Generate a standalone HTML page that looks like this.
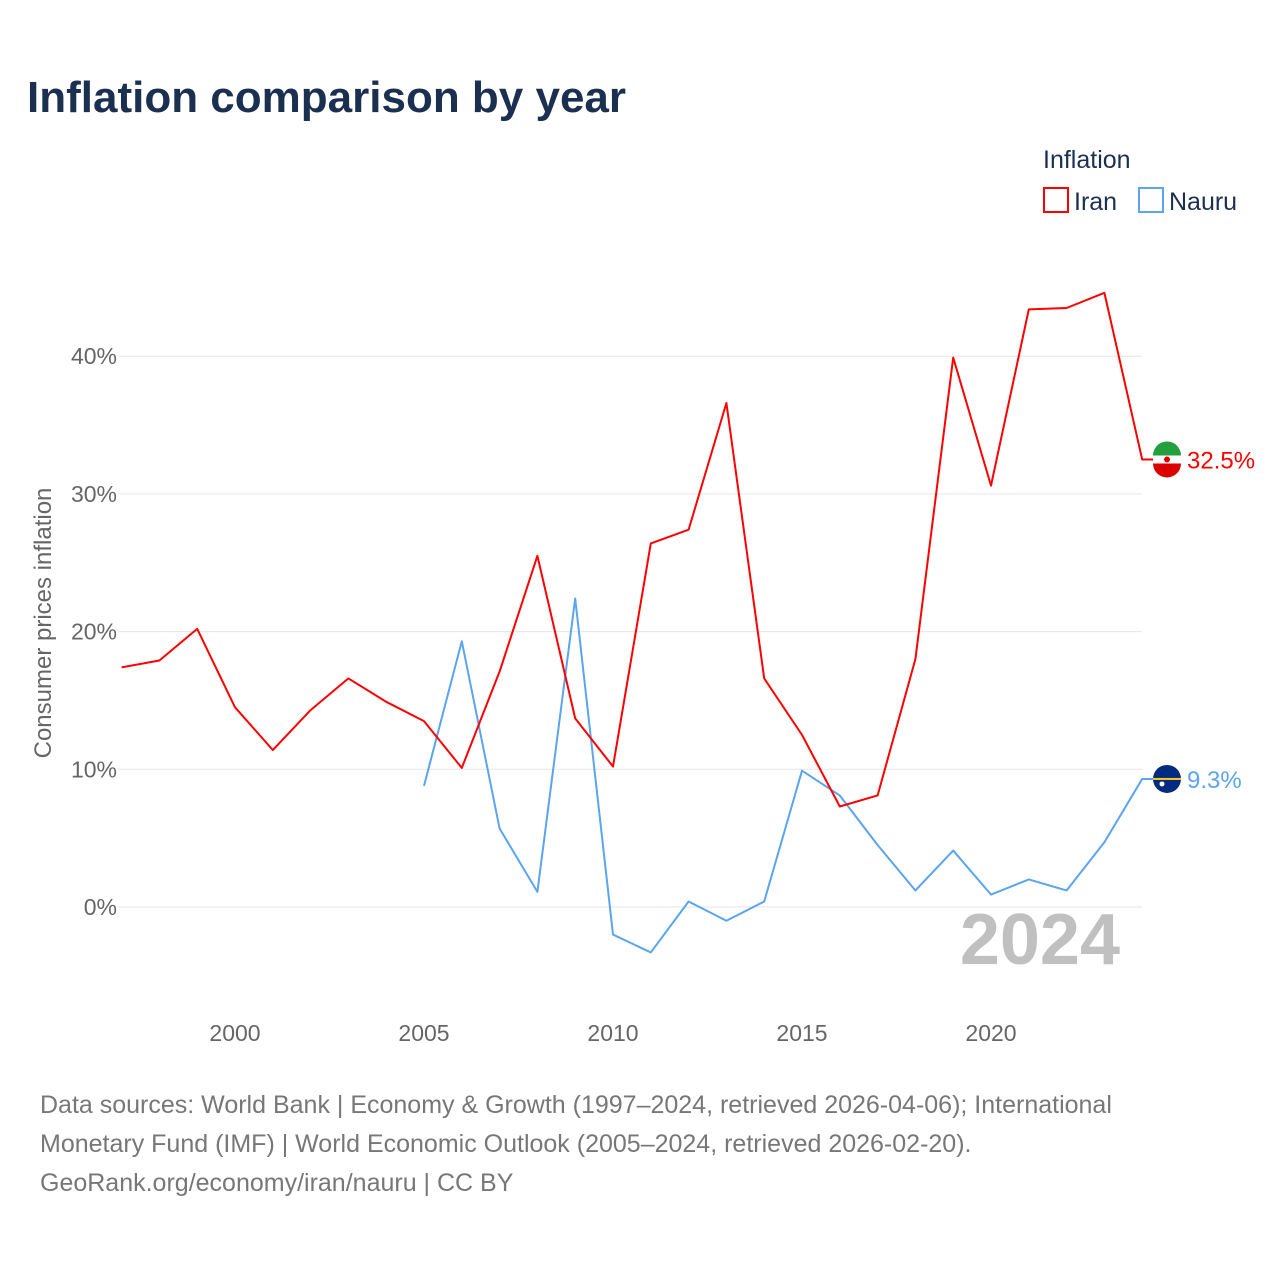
<!DOCTYPE html>
<html><head><meta charset="utf-8"><style>
body{margin:0;background:#fff;font-family:"Liberation Sans",sans-serif}
</style></head><body>
<svg width="1280" height="1280" viewBox="0 0 1280 1280" xmlns="http://www.w3.org/2000/svg">
<rect width="1280" height="1280" fill="#fff"/>
<text x="27" y="112" font-size="44" font-weight="bold" fill="#1b3050">Inflation comparison by year</text>
<text x="1043" y="168" font-size="25" fill="#1b3050">Inflation</text>
<g><rect x="1044" y="188" width="24" height="24" fill="none" stroke="#ff0000" stroke-width="2"/><text x="1074" y="210" font-size="25" fill="#1b3050">Iran</text></g>
<g><rect x="1139" y="188" width="24" height="24" fill="none" stroke="#5ba4ee" stroke-width="2"/><text x="1169" y="210" font-size="25" fill="#1b3050">Nauru</text></g>
<g id="grid"></g>
<g id="yt"></g>
<g id="xt"></g>
<text transform="translate(51,623) rotate(-90)" text-anchor="middle" font-size="24" fill="#666">Consumer prices inflation</text>
<text x="1120" y="964" text-anchor="end" font-size="72" font-weight="bold" fill="#c0c0c0">2024</text>
<g id="series"></g>
<text x="40" y="1113" font-size="25" fill="#777">Data sources: World Bank | Economy &amp; Growth (1997–2024, retrieved 2026-04-06); International</text>
<text x="40" y="1152" font-size="25" fill="#777">Monetary Fund (IMF) | World Economic Outlook (2005–2024, retrieved 2026-02-20).</text>
<text x="40" y="1191" font-size="25" fill="#777">GeoRank.org/economy/iran/nauru | CC BY</text>
</svg>
<script>
const iranYears=[1997,1998,1999,2000,2001,2002,2003,2004,2005,2006,2007,2008,2009,2010,2011,2012,2013,2014,2015,2016,2017,2018,2019,2020,2021,2022,2023,2024];
const iranValues=[17.4,17.9,20.2,14.5,11.4,14.3,16.6,14.9,13.5,10.1,17.1,25.5,13.7,10.2,26.4,27.4,36.6,16.6,12.5,7.3,8.1,18.0,39.9,30.6,43.4,43.5,44.6,32.5];
const nauruYears=[2005,2006,2007,2008,2009,2010,2011,2012,2013,2014,2015,2016,2017,2018,2019,2020,2021,2022,2023,2024];
const nauruValues=[8.8,19.3,5.7,1.1,22.4,-2.0,-3.3,0.4,-1.0,0.4,9.9,8.1,4.5,1.2,4.1,0.9,2.0,1.2,4.7,9.3];
const yTicks=[0,10,20,30,40];
const xTicks=[2000,2005,2010,2015,2020];
const NS='http://www.w3.org/2000/svg';
const X=y=>121.6+(y-1997)*37.8;
const Y=v=>907-v*13.77;
function mk(t,a,p){const e=document.createElementNS(NS,t);for(const k in a)e.setAttribute(k,a[k]);p.appendChild(e);return e;}
const grid=document.getElementById('grid'),yt=document.getElementById('yt'),xt=document.getElementById('xt'),series=document.getElementById('series');
yTicks.forEach(v=>{
 const l=mk('line',{x1:118,x2:1142,y1:Y(v),y2:Y(v),stroke:'#e6e6e6','stroke-width':1},grid);
 
 
 const t=mk('text',{x:117,y:Y(v)+8,'text-anchor':'end','font-size':23,fill:'#666'},yt);
 t.textContent=v+'%';
 
 
});
xTicks.forEach(y=>{
 const t=mk('text',{x:X(y),y:1041,'text-anchor':'middle','font-size':23,fill:'#666'},xt);
 t.textContent=y;
 
 
});
function draw(years,vals,color,name,flag){
 const last=vals[vals.length-1];
 const pts=years.map((y,i)=>X(y)+','+Y(vals[i])).join(' ')+' '+(X(years[years.length-1])+13)+','+Y(last);
 const p=mk('polyline',{points:pts,fill:'none',stroke:color,'stroke-width':2,'stroke-linejoin':'round'},series);
 
 
 const cy=Y(last),cx=1167;
 const g=mk('g',{},series);
 
 
 if(flag==='iran'){
  mk('circle',{cx:cx,cy:cy,r:14,fill:'#fff'},g);
  mk('path',{d:`M${cx-14},${cy-4} A14,14 0 0 1 ${cx+14},${cy-4} Z`,fill:'#239f40'},g);
  mk('path',{d:`M${cx-14},${cy+4} A14,14 0 0 0 ${cx+14},${cy+4} Z`,fill:'#da0000'},g);
  mk('circle',{cx:cx,cy:cy,r:3,fill:'#da0000'},g);
 }else{
  mk('circle',{cx:cx,cy:cy,r:14,fill:'#002b7f'},g);
  mk('rect',{x:cx-14,y:cy-1,width:28,height:2,fill:'#ffc61e'},g);
  mk('circle',{cx:cx-5,cy:cy+5,r:2.5,fill:'#fff'},g);
 }
 const t=mk('text',{x:1187,y:cy+9,'font-size':24,fill:color},series);
 t.textContent=last.toFixed(1)+'%';
 
 
}
draw(nauruYears,nauruValues,'#5ba4ee','nauru','nauru');
draw(iranYears,iranValues,'#ff0000','iran','iran');
</script>
</body></html>
